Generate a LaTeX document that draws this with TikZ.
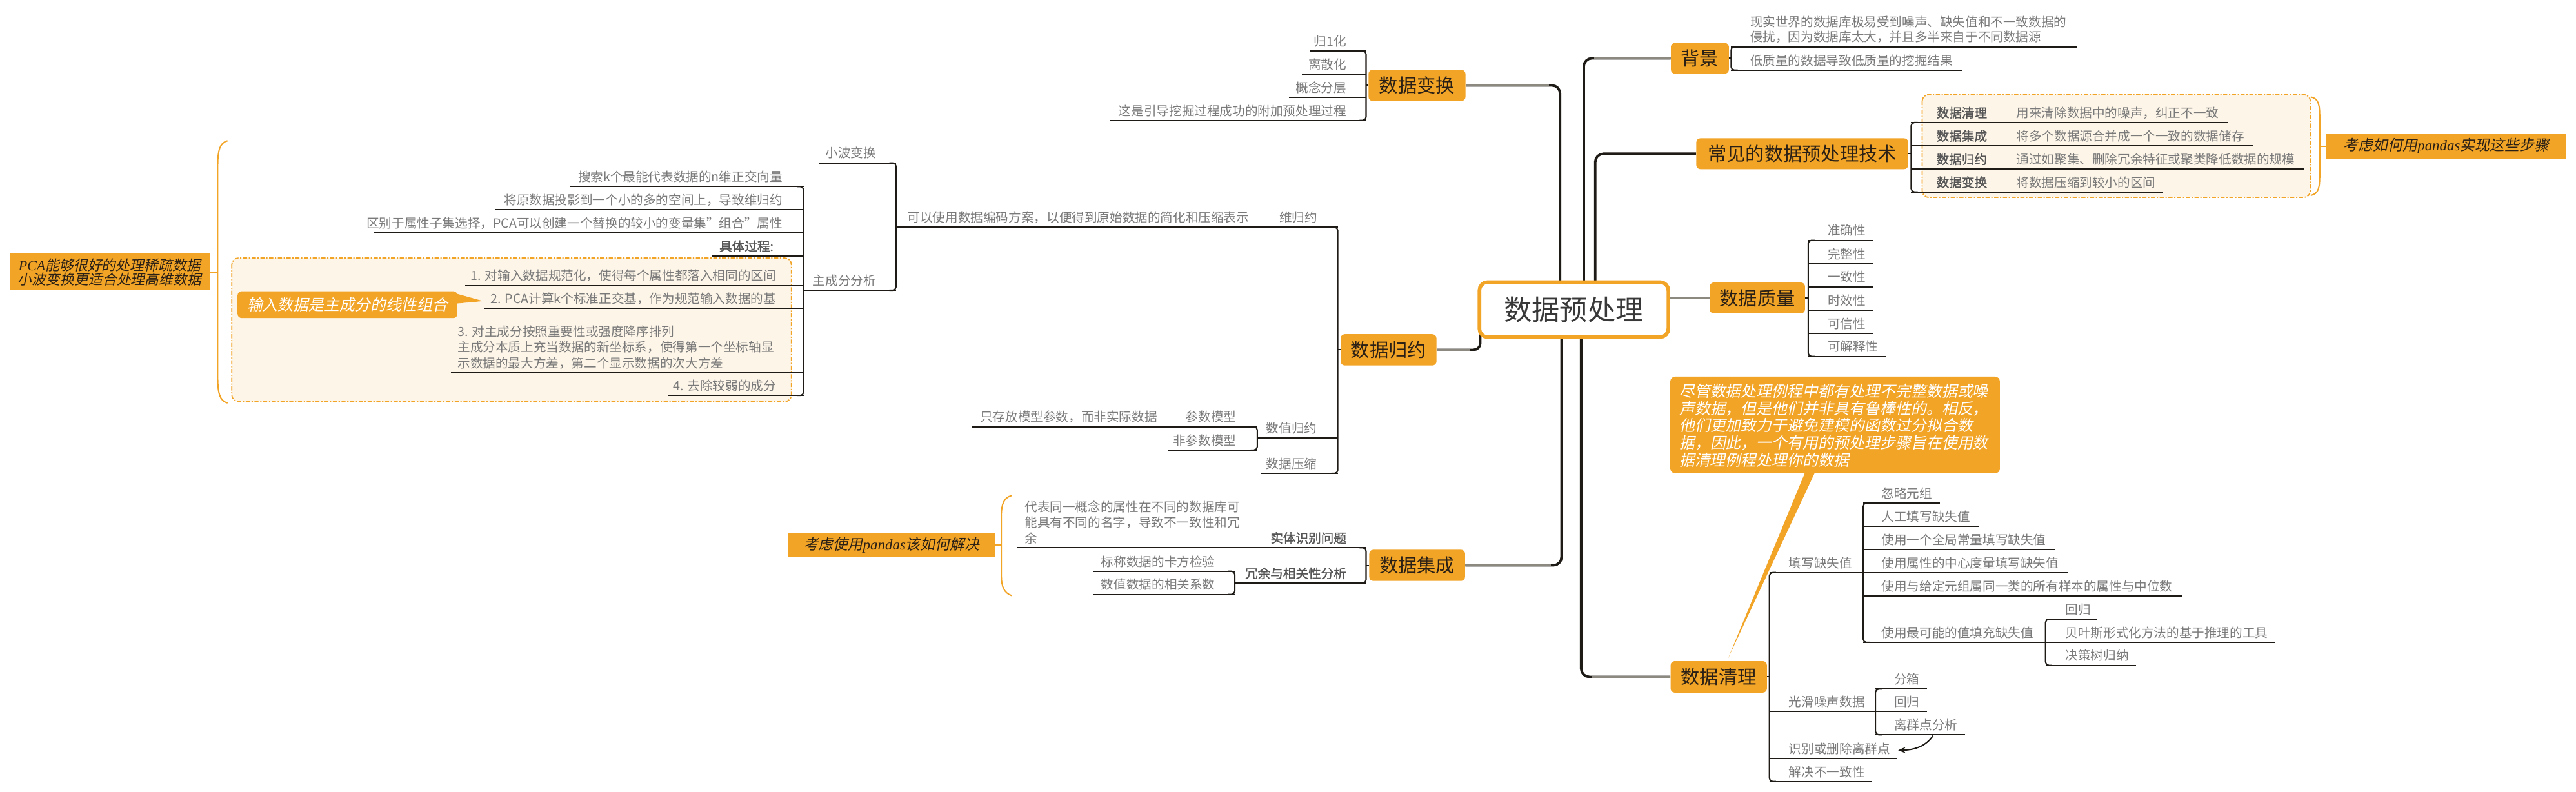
\documentclass[tikz,border=0pt]{standalone}
\usepackage{fontspec}
\setmainfont{Noto Sans CJK SC}
\newfontfamily\cjkit[FakeSlant=0.2]{Noto Sans CJK SC}
\newfontfamily\cjkbf[FakeBold=1.5]{Noto Sans CJK SC}
\newfontfamily\serifit{Liberation Serif}
\newcommand\pandasword{{\serifit\itshape pandas}}
\newcommand\pcaword{{\serifit\itshape PCA}}
\usetikzlibrary{arrows.meta}
\pgfdeclarelayer{back}
\pgfdeclarelayer{lines}
\pgfsetlayers{back,lines,main}
\definecolor{orng}{HTML}{F2A427}
\definecolor{trunkc}{HTML}{1E1A16}
\definecolor{connc}{HTML}{8C8A80}
\definecolor{leafc}{HTML}{7A7A7A}
\definecolor{leafbc}{HTML}{555555}
\definecolor{boxtxt}{HTML}{2B2015}
\definecolor{cream}{HTML}{FDF5E8}
\newcommand\mmline[3]{\draw[ul] (#1,#3) -- (#2,#3);}
\newcommand\mmbrk[4]{\draw[ul, rounded corners=2pt] (#4,#2) -- (#1,#2) -- (#1,#3) -- (#4,#3);}
\begin{document}
\begin{tikzpicture}[x=1pt,y=-1pt,
  ul/.style={draw=trunkc, line width=0.8pt},
  trk/.style={draw=trunkc, line width=1.5pt},
  cn/.style={draw=connc, line width=1.2pt},
  leaf/.style={inner sep=0pt, text=leafc, font=\fontsize{7.7}{9.6}\selectfont},
  leafb/.style={inner sep=0pt, text=leafbc, font=\cjkbf\fontsize{7.7}{9.6}\selectfont},
  mbox/.style={fill=orng, rounded corners=2.5pt, inner sep=0pt, text=boxtxt, font=\fontsize{11.5}{13}\selectfont},
  call/.style={fill=orng, inner sep=0pt, text=boxtxt, font=\cjkit\fontsize{9}{10.5}\selectfont},
  grp/.style={draw=orng, fill=cream, line width=0.7pt, dash pattern=on 2.5pt off 1pt on 0.8pt off 1pt, rounded corners=4pt},
  brace/.style={draw=orng, line width=0.8pt}]

% ---------- background and groups ----------
\begin{pgfonlayer}{back}
\fill[white] (0,0) rectangle (1568,482);
\path[grp] (1170,57.6) rectangle (1406.3,120.2);
\path[grp] (141.1,157.1) rectangle (481.7,244.5);
\end{pgfonlayer}
\path[use as bounding box] (0,0) rectangle (1568,482);

% ---------- root ----------
\node[draw=orng, line width=2.2pt, fill=white, rounded corners=5pt, minimum width=115pt, minimum height=33.5pt, inner sep=0pt, text={black!78}, font=\fontsize{17}{20}\selectfont] (root) at (958,188.5) {数据预处理};

% ---------- main boxes ----------
\node[mbox, minimum width=59pt, minimum height=19pt] (bianhuan) at (862.5,52) {数据变换};
\node[mbox, minimum width=35.3pt, minimum height=18.7pt] (beijing) at (1034.7,35.5) {背景};
\node[mbox, minimum width=129pt, minimum height=18.8pt] (changjian) at (1097,93.6) {常见的数据预处理技术};
\node[mbox, minimum width=58pt, minimum height=18.8pt] (zhiliang) at (1069.7,181.4) {数据质量};
\node[mbox, minimum width=58.6pt, minimum height=19.2pt] (qingli) at (1046.2,412.1) {数据清理};
\node[mbox, minimum width=58.3pt, minimum height=19pt] (jicheng) at (862.6,344.2) {数据集成};
\node[mbox, minimum width=58.3pt, minimum height=19pt] (guiyue) at (845.2,213) {数据归约};

% ---------- 数据变换 leaves ----------
\node[leaf, anchor=base east] (bh1) at (819.7,28) {归1化};
\node[leaf, anchor=base east] (bh2) at (819.7,42.2) {离散化};
\node[leaf, anchor=base east] (bh3) at (819.7,56.2) {概念分层};
\node[leaf, anchor=base east] (bh4) at (819.7,70.3) {这是引导挖掘过程成功的附加预处理过程};

% ---------- 背景 leaves ----------
\node[leaf, anchor=base west, align=left, font=\fontsize{7.7}{9.4}\selectfont] (bj1) at (1065.2,25.5) {现实世界的数据库极易受到噪声、缺失值和不一致数据的\\侵扰，因为数据库太大，并且多半来自于不同数据源};
\node[leaf, anchor=base west] (bj2) at (1065.2,39.7) {低质量的数据导致低质量的挖掘结果};

% ---------- 常见 leaves ----------
\node[leafb, anchor=base west] (cj1) at (1178.5,71.6) {数据清理};
\node[leafb, anchor=base west] (cj2) at (1178.5,85.7) {数据集成};
\node[leafb, anchor=base west] (cj3) at (1178.5,99.9) {数据归约};
\node[leafb, anchor=base west] (cj4) at (1178.5,113.9) {数据变换};
\node[leaf, anchor=base west] (cd1) at (1227.2,71.6) {用来清除数据中的噪声，纠正不一致};
\node[leaf, anchor=base west] (cd2) at (1227.2,85.7) {将多个数据源合并成一个一致的数据储存};
\node[leaf, anchor=base west] (cd3) at (1227.2,99.9) {通过如聚集、删除冗余特征或聚类降低数据的规模};
\node[leaf, anchor=base west] (cd4) at (1227.2,113.9) {将数据压缩到较小的区间};
\node[call, minimum width=146pt, minimum height=15.3pt] (cjcall) at (1489,89) {考虑如何用\pandasword 实现这些步骤};

% ---------- 数据质量 leaves ----------
\node[leaf, anchor=base west] (zl1) at (1112.3,143.3) {准确性};
\node[leaf, anchor=base west] (zl2) at (1112.3,157.5) {完整性};
\node[leaf, anchor=base west] (zl3) at (1112.3,171.6) {一致性};
\node[leaf, anchor=base west] (zl4) at (1112.3,185.8) {时效性};
\node[leaf, anchor=base west] (zl5) at (1112.3,199.9) {可信性};
\node[leaf, anchor=base west] (zl6) at (1112.3,214) {可解释性};

% ---------- note callout ----------
\node[fill=orng, rounded corners=3pt, minimum width=200.6pt, minimum height=58.9pt, inner sep=0pt] (note) at (1117,258.75) {};
\fill[orng] (1099,287) -- (1105,287) -- (1052,400.5) -- cycle;
\node[anchor=base west, align=left, text=white, inner sep=0pt, font=\cjkit\fontsize{9.4}{10.5}\selectfont] (notetxt) at (1022,283.7) {尽管数据处理例程中都有处理不完整数据或噪\\声数据，但是他们并非具有鲁棒性的。相反，\\他们更加致力于避免建模的函数过分拟合数\\据，因此，一个有用的预处理步骤旨在使用数\\据清理例程处理你的数据};

% ---------- 数据清理 leaves ----------
\node[leaf, anchor=base west] (ql1) at (1088.7,345.6) {填写缺失值};
\node[leaf, anchor=base west] (ql2) at (1088.7,430.3) {光滑噪声数据};
\node[leaf, anchor=base west] (ql3) at (1088.7,458.7) {识别或删除离群点};
\node[leaf, anchor=base west] (ql4) at (1088.7,472.8) {解决不一致性};
\node[leaf, anchor=base west] (tx1) at (1145.1,303.3) {忽略元组};
\node[leaf, anchor=base west] (tx2) at (1145.1,317.4) {人工填写缺失值};
\node[leaf, anchor=base west] (tx3) at (1145.1,331.6) {使用一个全局常量填写缺失值};
\node[leaf, anchor=base west] (tx4) at (1145.1,345.6) {使用属性的中心度量填写缺失值};
\node[leaf, anchor=base west] (tx5) at (1145.1,359.7) {使用与给定元组属同一类的所有样本的属性与中位数};
\node[leaf, anchor=base west] (tx6) at (1145.1,388.1) {使用最可能的值填充缺失值};
\node[leaf, anchor=base west] (kn1) at (1257,374) {回归};
\node[leaf, anchor=base west] (kn2) at (1257,388.1) {贝叶斯形式化方法的基于推理的工具};
\node[leaf, anchor=base west] (kn3) at (1257,402.1) {决策树归纳};
\node[leaf, anchor=base west] (gh1) at (1152.8,416.5) {分箱};
\node[leaf, anchor=base west] (gh2) at (1152.8,430.3) {回归};
\node[leaf, anchor=base west] (gh3) at (1152.8,444.4) {离群点分析};

% ---------- 数据集成 leaves ----------
\node[leafb, anchor=base east] (jc1) at (819.7,330.5) {实体识别问题};
\node[leafb, anchor=base east] (jc2) at (819.7,352) {冗余与相关性分析};
\node[leaf, anchor=base west, align=left] (jcd) at (623.6,330.7) {代表同一概念的属性在不同的数据库可\\能具有不同的名字，导致不一致性和冗\\余};
\node[leaf, anchor=base west] (jcs1) at (670.1,344.8) {标称数据的卡方检验};
\node[leaf, anchor=base west] (jcs2) at (670.1,358.9) {数值数据的相关系数};
\node[call, minimum width=125.6pt, minimum height=15pt] (jccall) at (542.8,331.8) {考虑使用\pandasword 该如何解决};

% ---------- 数据归约 leaves ----------
\node[leaf, anchor=base east] (gy1) at (802,135.4) {维归约};
\node[leaf, anchor=base west] (gy1d) at (552.2,135.4) {可以使用数据编码方案，以便得到原始数据的简化和压缩表示};
\node[leaf, anchor=base east] (gy2) at (801.8,263.8) {数值归约};
\node[leaf, anchor=base east] (gy3) at (801.8,285.2) {数据压缩};
\node[leaf, anchor=base east] (sz1) at (752.7,256.8) {参数模型};
\node[leaf, anchor=base west] (sz1d) at (596.4,256.8) {只存放模型参数，而非实际数据};
\node[leaf, anchor=base east] (sz2) at (752.7,271) {非参数模型};
\node[leaf, anchor=base east] (wg1) at (533.4,96.2) {小波变换};
\node[leaf, anchor=base east] (wg2) at (533.4,173.7) {主成分分析};
\node[leaf, anchor=base east] (pc1) at (476.5,110.6) {搜索k个最能代表数据的n维正交向量};
\node[leaf, anchor=base east] (pc2) at (476.5,124.6) {将原数据投影到一个小的多的空间上，导致维归约};
\node[leaf, anchor=base east] (pc3) at (476.5,138.8) {区别于属性子集选择，PCA可以创建一个替换的较小的变量集"组合"属性};
\node[leafb, anchor=base east] (pc4) at (471,152.8) {具体过程:};
\node[leaf, anchor=base east] (pc5) at (472.6,170.8) {1. 对输入数据规范化，使得每个属性都落入相同的区间};
\node[leaf, anchor=base east] (pc6) at (472.6,184.8) {2. PCA计算k个标准正交基，作为规范输入数据的基};
\node[leaf, anchor=base west, align=left] (pc7) at (278.4,224) {3. 对主成分按照重要性或强度降序排列\\主成分本质上充当数据的新坐标系，使得第一个坐标轴显\\示数据的最大方差，第二个显示数据的次大方差};
\node[leaf, anchor=base east] (pc8) at (472.6,237.8) {4. 去除较弱的成分};
\node[fill=orng, rounded corners=2.5pt, minimum width=133.8pt, minimum height=16.3pt, inner sep=0pt, text=white, font=\cjkit\fontsize{9.4}{10}\selectfont] (shuru) at (211.5,185.5) {输入数据是主成分的线性组合};
\fill[orng] (276,178.3) -- (294,183.3) -- (276,185) -- cycle;
\node[call, minimum width=121.4pt, minimum height=22.2pt, align=center, font=\cjkit\fontsize{8.6}{8.6}\selectfont] (pcacall) at (66.8,165.6) {\pcaword 能够很好的处理稀疏数据\\小波变换更适合处理高维数据};

% ---------- lines ----------
\begin{pgfonlayer}{lines}
% trunks
\draw[trk, rounded corners=5pt] (bianhuan.east) -- (949.6,52) -- (949.6,185);
\draw[cn] (bianhuan.east) -- (943,52);
\draw[trk, rounded corners=5pt] (964,185) -- (964,35.5) -- (beijing.west);
\draw[cn] (970.5,35.5) -- (beijing.west);
\draw[trk, rounded corners=5pt] (971,185) -- (971,93.6) -- (changjian.west);
\draw[cn] (1010,181.4) -- (zhiliang.west);
\draw[trk, rounded corners=4pt] (901,195) -- (901,213) -- (guiyue.east);
\draw[cn] (895,213) -- (guiyue.east);
\draw[trk, rounded corners=5pt] (950.5,195) -- (950.5,344.2) -- (jicheng.east);
\draw[cn] (944,344.2) -- (jicheng.east);
\draw[trk, rounded corners=5pt] (962.4,195) -- (962.4,412.1) -- (qingli.west);
\draw[cn] (969,412.1) -- (qingli.west);

% 数据变换
\draw[ul] (bianhuan.west) -- (831.5,52);
\mmbrk{831.5}{31}{73.3}{827.5}
\mmline{797.3}{831.5}{31}
\mmline{792.4}{831.5}{45.2}
\mmline{784.7}{831.5}{59.2}
\mmline{675.8}{831.5}{73.3}

% 背景
\draw[ul] (beijing.east) -- (1053.7,35.5);
\mmbrk{1053.7}{28.5}{42.7}{1057.7}
\mmline{1053.7}{1264.4}{28.5}
\mmline{1053.7}{1194.2}{42.7}

% 常见
\draw[ul] (changjian.east) -- (1163.3,93.6);
\mmbrk{1163.3}{74.6}{116.9}{1167.3}
\mmline{1163.3}{1356}{74.6}
\mmline{1163.3}{1371.7}{88.7}
\mmline{1163.3}{1402.7}{102.9}
\mmline{1163.3}{1316.7}{116.9}

% 数据质量
\draw[ul] (zhiliang.east) -- (1100.6,181.4);
\mmbrk{1100.6}{146.3}{217}{1104.6}
\mmline{1100.6}{1140.1}{146.3}
\mmline{1100.6}{1140.1}{160.5}
\mmline{1100.6}{1140.1}{174.6}
\mmline{1100.6}{1140.1}{188.8}
\mmline{1100.6}{1140.1}{202.9}
\mmline{1100.6}{1147.8}{217}

% 数据清理
\draw[ul] (qingli.east) -- (1077,412.1);
\mmbrk{1077}{348.6}{475.8}{1081}
\mmline{1077}{1134.1}{348.6}
\mmline{1077}{1141.6}{433.3}
\mmline{1077}{1154.6}{461.7}
\mmline{1077}{1139.6}{475.8}
\mmbrk{1134.1}{306.3}{391.1}{1138.1}
\mmline{1134.1}{1180.9}{306.3}
\mmline{1134.1}{1204.4}{320.4}
\mmline{1134.1}{1250.9}{334.6}
\mmline{1134.1}{1258.9}{348.6}
\mmline{1134.1}{1328.6}{362.7}
\mmline{1134.1}{1245.1}{391.1}
\mmbrk{1245.1}{377}{405.1}{1249.1}
\mmline{1245.1}{1276.2}{377}
\mmline{1245.1}{1385}{391.1}
\mmline{1245.1}{1300.2}{405.1}
\mmbrk{1141.6}{419.5}{447.4}{1145.6}
\mmline{1141.6}{1172.9}{419.5}
\mmline{1141.6}{1172.9}{433.3}
\mmline{1141.6}{1196.2}{447.4}
\draw[ul, -{Stealth[length=4.5pt,width=3.8pt]}] (1176.6,447.9) .. controls (1172.5,454) and (1166,456.6) .. (1155.4,456.8);

% 数据集成
\draw[ul] (jicheng.west) -- (831.5,344.2);
\mmbrk{831.5}{333.5}{355}{827.5}
\mmline{619.1}{831.5}{333.5}
\mmline{751.6}{831.5}{355}
\mmbrk{751.6}{347.8}{361.9}{747.6}
\mmline{665.7}{751.6}{347.8}
\mmline{665.7}{751.6}{361.9}

% 数据归约
\draw[ul] (guiyue.west) -- (814.3,213);
\mmbrk{814.3}{138.4}{288.2}{810.3}
\mmline{545.4}{814.3}{138.4}
\mmline{765.3}{814.3}{266.8}
\mmline{767.3}{814.3}{288.2}
\mmbrk{765.3}{259.8}{274}{761.3}
\mmline{591.4}{765.3}{259.8}
\mmline{710.6}{765.3}{274}
\mmbrk{545.4}{99.2}{176.7}{541.4}
\mmline{498.4}{545.4}{99.2}
\mmline{489.1}{545.4}{176.7}
\mmbrk{489.1}{113.6}{240.8}{485.1}
\mmline{347.1}{489.1}{113.6}
\mmline{301.5}{489.1}{127.6}
\mmline{227.5}{489.1}{141.8}
\mmline{433.5}{489.1}{155.8}
\mmline{283.3}{489.1}{173.8}
\mmline{295}{489.1}{187.8}
\mmline{274.4}{489.1}{226.8}
\mmline{406.7}{489.1}{240.8}

% braces
\draw[brace] (1406.5,59) .. controls (1411.5,60) and (1412,64) .. (1412,72) -- (1412,106) .. controls (1412,114) and (1411.5,118) .. (1406.5,119);
\draw[brace] (1412,89) -- (cjcall.west);
\draw[brace] (138.5,85.7) .. controls (133.5,87) and (132.5,92) .. (132.5,102) -- (132.5,229) .. controls (132.5,239) and (133.5,244) .. (138.5,245.4);
\draw[brace] (132.5,165.6) -- (pcacall.east);
\draw[brace] (615.8,301.7) .. controls (611,303) and (609.5,307) .. (609.5,314) -- (609.5,350) .. controls (609.5,357) and (611,361) .. (615.8,362.6);
\draw[brace] (609.5,331.8) -- (jccall.east);
\end{pgfonlayer}
\end{tikzpicture}
\end{document}
